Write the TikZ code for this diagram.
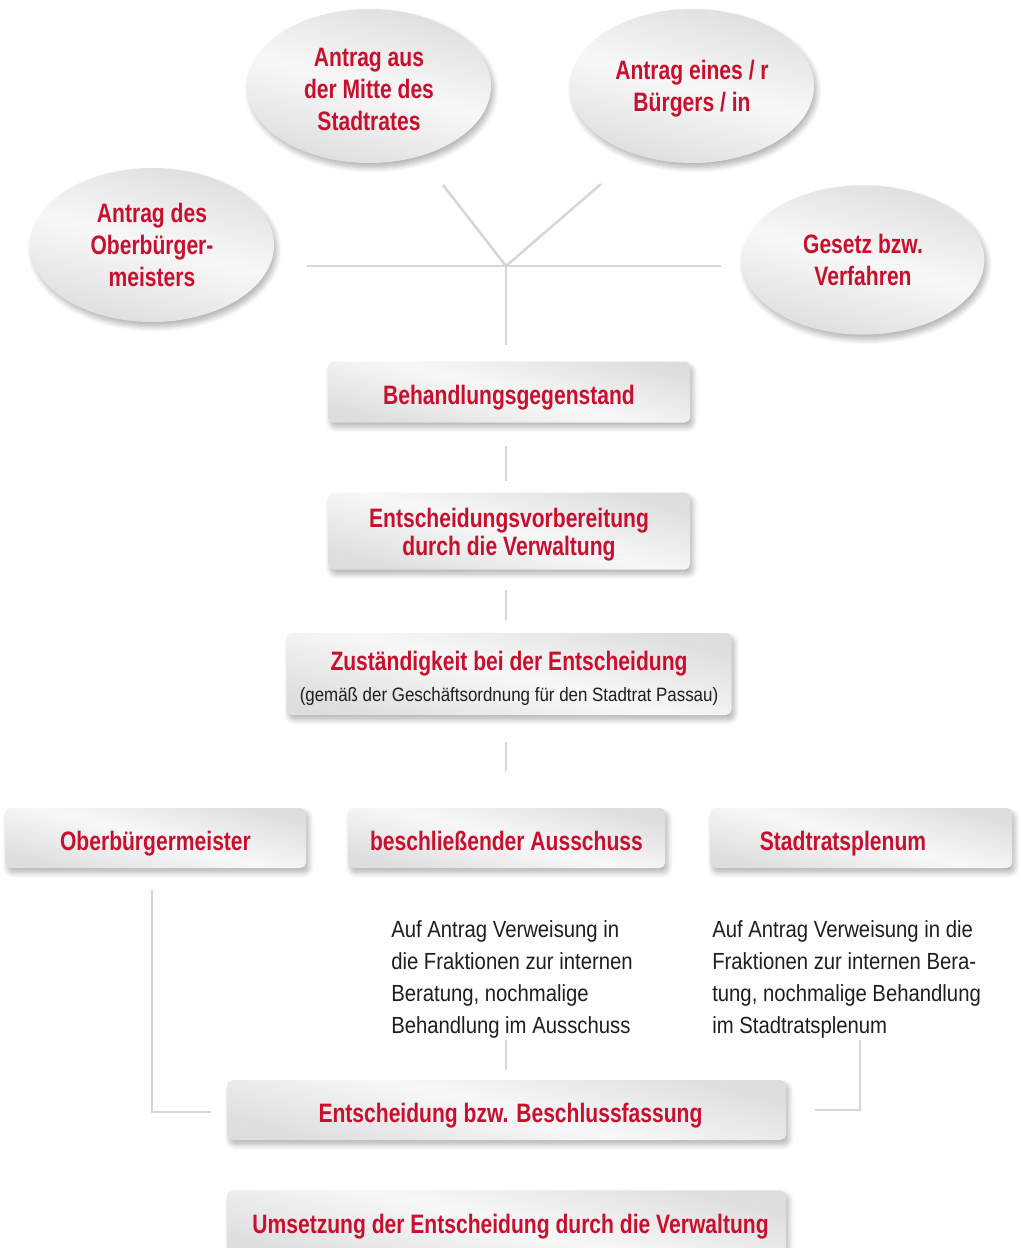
\documentclass[tikz,border=0pt]{standalone}
\usepackage{fontspec}
\setmainfont{Liberation Sans}[FakeStretch=0.79]
\newfontfamily\bodyf{Liberation Sans}[FakeStretch=0.87]
\newfontfamily\smallfam{Liberation Sans}[FakeStretch=0.875]
\usetikzlibrary{shapes.geometric,shadows.blur}
\definecolor{tred}{RGB}{200,16,46}
\definecolor{lgray}{RGB}{214,214,214}
\definecolor{tblack}{RGB}{30,30,30}
\pgfdeclarehorizontalshading{metal}{100bp}{color(0bp)=(black!15); color(25bp)=(black!13); color(42bp)=(black!6); color(50bp)=(black!3); color(58bp)=(black!6); color(75bp)=(black!13); color(100bp)=(black!15)}
\newcommand{\titlef}{\fontsize{20}{24}\selectfont\bfseries}
\newcommand{\notef}{\bodyf\fontsize{17.5}{24}\selectfont}
\newcommand{\smallf}{\smallfam\mdseries\fontsize{14.5}{17}\selectfont}
\newcommand{\strt}[1]{\rule{0pt}{#1}}
\begin{document}
\begin{tikzpicture}[x=0.75pt,y=-0.75pt,
  shade/.style={shading=metal, shading angle=75,
    blur shadow={shadow xshift=2pt, shadow yshift=-3.5pt, shadow blur steps=8, shadow opacity=30, shadow blur radius=4pt}},
  box/.style={shade, rectangle, rounded corners=4pt, draw=none, inner sep=0pt,
    font=\titlef, text=tred, align=center},
  onebox/.style={box, text height=19pt, text depth=0pt},
  oval/.style={shade, ellipse, draw=none, inner sep=0pt, minimum width=183pt, minimum height=115.5pt,
    font=\titlef, text=tred, align=center},
  conn/.style={draw=lgray, line width=1.9pt},
  note/.style={font=\notef, text=tblack, align=left, anchor=north west, inner sep=0pt}
]
\useasboundingbox (0,0) rectangle (1020,1248);

% ellipses
\node[oval] (obm) at (152,245) {Antrag des\\Oberbürger-\\meisters};
\node[oval] (mitte) at (369,86) {\strt{19pt}Antrag aus\\der Mitte des\\Stadtrates};
\node[oval] (buerger) at (692,86) {\strt{19pt}Antrag eines / r\\Bürgers / in};
\node[oval, minimum width=182pt, minimum height=112pt] (gesetz) at (863,260) {Gesetz bzw.\\Verfahren};

% junction lines
\coordinate (j) at (506,266);
\coordinate (hl) at (307,266);
\coordinate (hr) at (721,266);
\coordinate (dl) at (443,185);
\coordinate (dr) at (601,184);
\coordinate (jd) at (506,345);
\draw[conn] (hl) -- (hr);
\draw[conn] (dl) -- (j) -- (dr);
\draw[conn] (j) -- (jd);

% main boxes
\node[onebox, minimum width=271.5pt, minimum height=45.75pt] (beh) at (509,392) {Behandlungsgegenstand};
\node[box, minimum width=271.5pt, minimum height=57.75pt] (vor) at (509,531) {\strt{20.5pt}Entscheidungsvorbereitung\\[-3pt]durch die Verwaltung};
\node[box, minimum width=333.75pt, minimum height=61.5pt] (zust) at (509,674) {\strt{20.5pt}Zuständigkeit bei der Entscheidung\\[-1pt]{\smallf\color{tblack}(gemäß der Geschäftsordnung für den Stadtrat Passau)}};

\coordinate (a1) at (506,446); \coordinate (a2) at (506,481);
\draw[conn] (a1) -- (a2);
\coordinate (b1) at (506,590); \coordinate (b2) at (506,620);
\draw[conn] (b1) -- (b2);
\coordinate (c1) at (506,742); \coordinate (c2) at (506,771);
\draw[conn] (c1) -- (c2);

% three boxes
\node[onebox, minimum width=225.75pt, minimum height=45pt] (ob) at (155.5,838) {Oberbürgermeister};
\node[onebox, minimum width=237.75pt, minimum height=45pt] (aus) at (506.5,838) {beschließender Ausschuss};
\node[onebox, minimum width=226.5pt, minimum height=45pt] (plen) at (861,838) {Stadtratsplenum\hspace*{27pt}};

% notes
\node[note] (n1) at (391,920) {Auf Antrag Verweisung in\\die Fraktionen zur internen\\Beratung, nochmalige\\Behandlung im Ausschuss};
\node[note] (n2) at (712,920) {Auf Antrag Verweisung in die\\Fraktionen zur internen Bera-\\tung, nochmalige Behandlung\\im Stadtratsplenum};

% decision boxes
\node[onebox, minimum width=419.25pt, minimum height=45pt] (ent) at (506.5,1110) {\hspace*{6pt}Entscheidung bzw. Beschlussfassung};
\node[box, text height=12pt, text depth=0pt, minimum width=419.25pt, minimum height=52pt] (ums) at (506.5,1225) {\hspace*{6pt}Umsetzung der Entscheidung durch die Verwaltung};

% connectors to decision
\coordinate (l1) at (152,890); \coordinate (l2) at (152,1112); \coordinate (l3) at (211,1112);
\draw[conn] (l1) -- (l2) -- (l3);
\coordinate (m1) at (506,1040); \coordinate (m2) at (506,1070);
\draw[conn] (m1) -- (m2);
\coordinate (r1) at (860,1040); \coordinate (r2) at (860,1110); \coordinate (r3) at (815,1110);
\draw[conn] (r1) -- (r2) -- (r3);
\end{tikzpicture}
\end{document}
